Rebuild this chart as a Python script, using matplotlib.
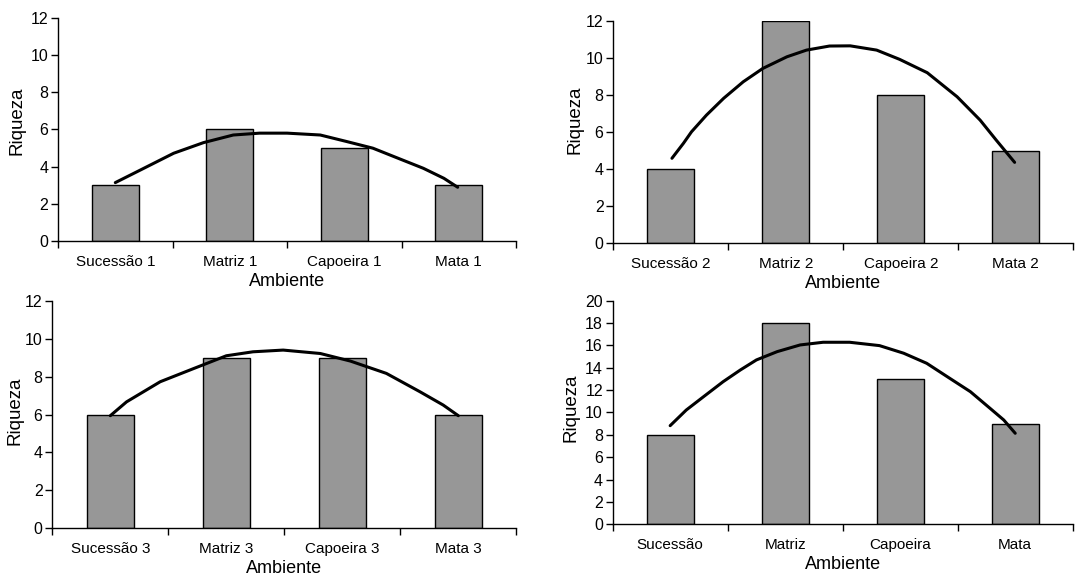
import numpy as np
import matplotlib.pyplot as plt
from matplotlib.ticker import FixedLocator

plt.rcParams['font.family'] = ['Liberation Sans', 'DejaVu Sans']

# bar values per panel
cats1 = ["Sucessão 1", "Matriz 1", "Capoeira 1", "Mata 1"]
cats2 = ["Sucessão 2", "Matriz 2", "Capoeira 2", "Mata 2"]
cats3 = ["Sucessão 3", "Matriz 3", "Capoeira 3", "Mata 3"]
cats4 = ["Sucessão", "Matriz", "Capoeira", "Mata"]
riq1 = [3, 6, 5, 3]
riq2 = [4, 12, 8, 5]
riq3 = [6, 9, 9, 6]
riq4 = [8, 18, 13, 9]

# trend curves (x in category units, 0 = first bar)
tx1 = [0.0, 0.22, 0.51, 0.77, 1.03, 1.26, 1.50, 1.79, 2.02, 2.25, 2.49, 2.69, 2.87, 2.99]
ty1 = [3.14, 3.82, 4.72, 5.29, 5.70, 5.80, 5.80, 5.70, 5.35, 4.99, 4.40, 3.91, 3.37, 2.89]
tx2 = [0.01, 0.11, 0.18, 0.31, 0.46, 0.63, 0.80, 1.01, 1.18, 1.38, 1.56, 1.79, 1.99, 2.23, 2.49, 2.69, 2.83, 2.99]
ty2 = [4.59, 5.40, 6.02, 6.92, 7.83, 8.72, 9.44, 10.07, 10.43, 10.65, 10.66, 10.43, 9.93, 9.21, 7.91, 6.65, 5.57, 4.37]
tx3 = [0.0, 0.14, 0.43, 0.72, 1.00, 1.23, 1.49, 1.81, 2.07, 2.38, 2.67, 2.87, 3.0]
ty3 = [5.94, 6.67, 7.73, 8.43, 9.10, 9.31, 9.40, 9.22, 8.82, 8.17, 7.20, 6.50, 5.94]
tx4 = [0.0, 0.14, 0.29, 0.46, 0.61, 0.75, 0.93, 1.13, 1.33, 1.56, 1.82, 2.03, 2.23, 2.43, 2.61, 2.78, 2.90, 3.0]
ty4 = [8.82, 10.22, 11.41, 12.75, 13.80, 14.70, 15.44, 16.04, 16.28, 16.28, 15.98, 15.30, 14.40, 13.06, 11.86, 10.38, 9.33, 8.14]

# (categories, values, curve x, curve y, ymax, axes rect, ylabel coords)
panels = [
    (cats1, riq1, tx1, ty1, 12, [0.0538, 0.5816, 0.4245, 0.3874], (-0.072, 0.538)),
    (cats2, riq2, tx2, ty2, 12, [0.5684, 0.5776, 0.4263, 0.3859], (-0.064, 0.555)),
    (cats3, riq3, tx3, ty3, 12, [0.0485, 0.0828, 0.4300, 0.3950], (-0.062, 0.517)),
    (cats4, riq4, tx4, ty4, 20, [0.5678, 0.0898, 0.4264, 0.3882], (-0.072, 0.522)),
]

fig = plt.figure(figsize=(10.79, 5.76), dpi=100)
for cats, vals, tx, ty, ymax, rect, ylc in panels:
    ax = fig.add_axes(rect)
    x = np.arange(len(cats))
    ax.bar(x, vals, width=0.41, color="#979797", edgecolor="black", linewidth=1.0, zorder=2)
    ax.plot(tx, ty, color="black", lw=2.2, zorder=3, solid_capstyle="round")
    ax.set_xlim(-0.5, len(cats) - 0.5)
    ax.set_ylim(0, ymax)
    ax.set_yticks(np.arange(0, ymax + 1, 2))
    ax.set_xticks(x)
    ax.set_xticklabels(cats)
    ax.xaxis.set_minor_locator(FixedLocator(np.arange(-0.5, len(cats), 1.0)))
    ax.tick_params(axis="x", which="major", length=0, pad=10, labelsize=11)
    ax.tick_params(axis="x", which="minor", length=5, width=1, direction="out")
    ax.tick_params(axis="y", length=5, width=1, direction="out", labelsize=11.5, pad=2)
    for s in ["top", "right"]:
        ax.spines[s].set_visible(False)
    for s in ["left", "bottom"]:
        ax.spines[s].set_linewidth(1.0)
    ax.set_xlabel("Ambiente", fontsize=13, labelpad=3)
    ax.set_ylabel("Riqueza", fontsize=13.5)
    ax.yaxis.set_label_coords(*ylc)

fig.savefig("out.png", dpi=100)
